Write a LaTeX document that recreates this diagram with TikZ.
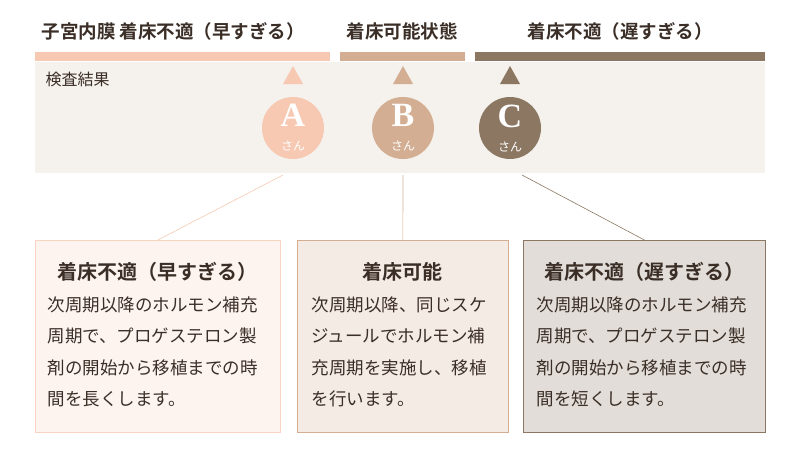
\documentclass[tikz,border=0pt]{standalone}
\usepackage{fontspec}
\setmainfont{Liberation Serif}
\newfontfamily\jp{Noto Sans CJK JP}[BoldFont={* Bold}]
\usetikzlibrary{positioning}
\definecolor{peach}{HTML}{F7C9B3}
\definecolor{tan}{HTML}{D3AE92}
\definecolor{umber}{HTML}{8B7762}
\definecolor{band}{HTML}{F5F1EC}
\definecolor{ink}{HTML}{3A2E26}
\tikzstyle{bar} = [draw=none, minimum height=9pt, inner sep=0pt]
\tikzstyle{head} = [font=\jp\bfseries\fontsize{18.5}{18.5}\selectfont, text=ink]
\tikzstyle{person} = [circle, minimum size=62pt, inner sep=0pt, text=white, align=center,
    font=\bfseries\fontsize{34}{26}\selectfont]
\tikzstyle{card} = [draw, line width=0.8pt, minimum height=192pt, anchor=north west, inner sep=0pt]
\tikzstyle{title} = [font=\jp\bfseries\fontsize{20}{20}\selectfont, text=ink]
\tikzstyle{body} = [font=\jp\fontsize{17.5}{31.5}\selectfont, text=ink, align=left, anchor=north west]
\tikzstyle{link} = [draw, line width=0.6pt]
\begin{document}
\begin{tikzpicture}[x=1pt, y=-1pt]
  \useasboundingbox (0,0) rectangle (800,458);
  % band and header bars
  \fill[band] (35,62) rectangle (765,173);
  \node [bar, fill=peach, minimum width=295pt, anchor=west] (barA) at (35,56) {};
  \node [bar, fill=tan, minimum width=125pt, anchor=west] (barB) at (340,56) {};
  \node [bar, fill=umber, minimum width=290pt, anchor=west] (barC) at (475,56) {};
  \node [head, anchor=west] at (38,31) {子宮内膜 着床不適（早すぎる）};
  \node [head] at (402,31) {着床可能状態};
  \node [head] at (620,31) {着床不適（遅すぎる）};
  \node [font=\jp\fontsize{16}{16}\selectfont, text=ink, anchor=west] at (42,79) {検査結果};
  % markers
  \foreach \x/\c in {293/peach, 403/tan, 510/umber}
    \fill[\c] (\x-10,84) -- (\x+10,84) -- (\x,66) -- cycle;
  \node [person, fill=peach] (mA) at (293,128) {A\\[-2pt]{\jp\mdseries\fontsize{12}{12}\selectfont さん}};
  \node [person, fill=tan] (mB) at (403,128) {B\\[-2pt]{\jp\mdseries\fontsize{12}{12}\selectfont さん}};
  \node [person, fill=umber] (mC) at (510,128) {C\\[-2pt]{\jp\mdseries\fontsize{12}{12}\selectfont さん}};
  % cards
  \node [card, draw=peach!80, fill=peach!20, minimum width=245pt] (cA) at (35,240) {};
  \node [card, draw=tan, fill=tan!25, minimum width=211pt] (cB) at (297,240) {};
  \node [card, draw=umber, fill=umber!25, minimum width=242pt] (cC) at (523,240) {};
  \node [title] at (157,272) {着床不適（早すぎる）};
  \node [title] at (402,272) {着床可能};
  \node [title] at (644,272) {着床不適（遅すぎる）};
  \node [body] at (44,293) {次周期以降のホルモン補充\\周期で、プロゲステロン製\\剤の開始から移植までの時\\間を長くします。};
  \node [body] at (308,293) {次周期以降、同じスケ\\ジュールでホルモン補\\充周期を実施し、移植\\を行います。};
  \node [body] at (533,293) {次周期以降のホルモン補充\\周期で、プロゲステロン製\\剤の開始から移植までの時\\間を短くします。};
  % connectors
  \coordinate (tA) at (283,175);
  \coordinate (tB) at (403,175);
  \coordinate (tC) at (522,175);
  \path [link, draw=peach] (tA) -- (cA.north);
  \path [link, draw=tan] (tB) -- (cB.north);
  \path [link, draw=umber] (tC) -- (cC.north);
\end{tikzpicture}
\end{document}
